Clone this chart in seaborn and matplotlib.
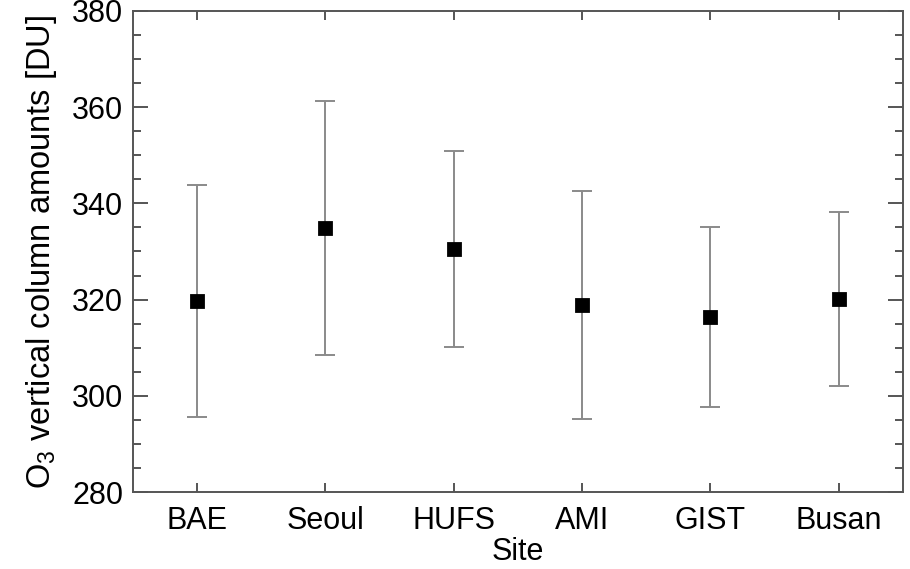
import matplotlib
matplotlib.use("Agg")
import matplotlib.pyplot as plt
from matplotlib.ticker import MultipleLocator
import seaborn as sns
import pandas as pd

sites = ["BAE", "Seoul", "HUFS", "AMI", "GIST", "Busan"]
mean_du = [319.7, 334.9, 330.5, 318.8, 316.4, 320.1]
std_du = [24.2, 26.4, 20.3, 23.7, 18.7, 18.1]

df = pd.DataFrame({"Site": sites, "mean": mean_du, "std": std_du})

sns.set_theme(style="ticks")
plt.rcParams["font.family"] = ["Liberation Sans", "DejaVu Sans"]
plt.rcParams["mathtext.fontset"] = "custom"
plt.rcParams["mathtext.rm"] = "Liberation Sans"
plt.rcParams["text.color"] = "black"
plt.rcParams["axes.labelcolor"] = "black"
plt.rcParams["xtick.labelcolor"] = "black"
plt.rcParams["ytick.labelcolor"] = "black"

fig = plt.figure(figsize=(9.10, 5.69), dpi=100)
ax = fig.add_axes([0.146, 0.1353, 0.846, 0.8454])

ax.errorbar(range(len(sites)), df["mean"], yerr=df["std"], fmt="none",
            ecolor="#8a8a8a", elinewidth=1.4, capsize=7.5, capthick=1.4, zorder=2)
sns.pointplot(data=df, x="Site", y="mean", order=sites, markers="s",
              linestyles="none", color="black", errorbar=None,
              markersize=9, ax=ax, zorder=3)

ax.set_xlim(-0.5, len(sites) - 0.5)
ax.set_ylim(280, 380)
ax.yaxis.set_major_locator(MultipleLocator(20))
ax.yaxis.set_minor_locator(MultipleLocator(5))

for s in ax.spines.values():
    s.set_color("#555555")
    s.set_linewidth(1.4)

ax.tick_params(axis="y", which="major", direction="in", length=11, width=1.4,
               color="#555555", left=True, right=True, labelsize=22, pad=7)
ax.tick_params(axis="y", which="minor", direction="in", length=5.5, width=1.4,
               color="#555555", left=True, right=True)
ax.tick_params(axis="x", which="major", direction="in", length=6.5, width=1.4,
               color="#555555", bottom=True, top=True, labelsize=22, pad=10)

ax.set_xlabel("Site", fontsize=22, labelpad=1)
ax.set_ylabel(r"O$_3$ vertical column amounts [DU]", fontsize=23.5, labelpad=9)

fig.savefig("out.png", dpi=100)
